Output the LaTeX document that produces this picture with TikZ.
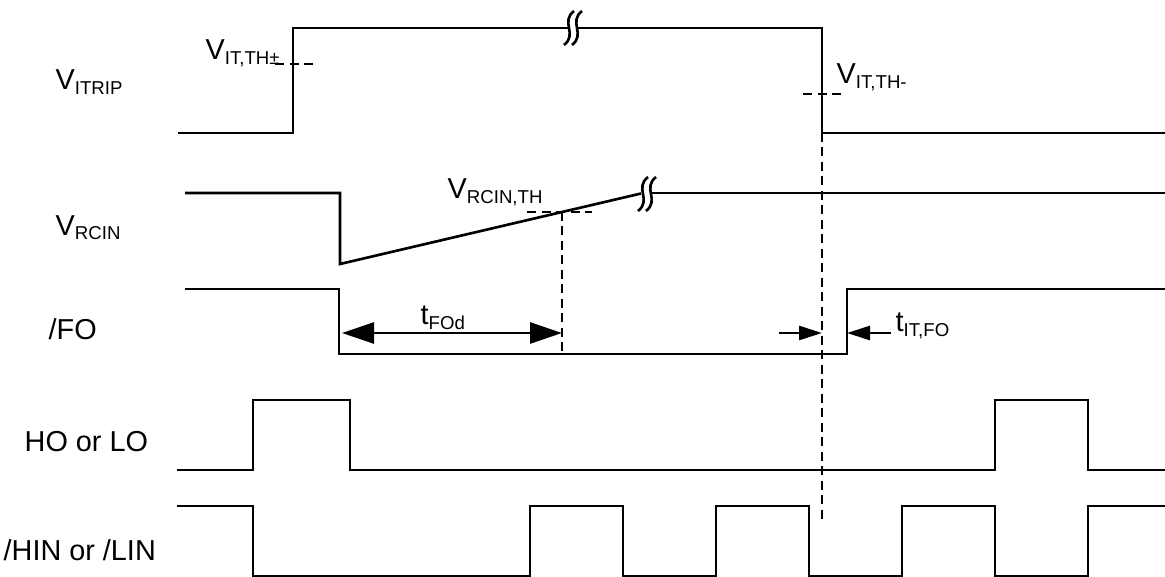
\documentclass[tikz,border=0pt]{standalone}
\usepackage{fontspec}
\setmainfont{Liberation Sans}
\usetikzlibrary{arrows.meta}
\newcommand{\lsub}[1]{\raisebox{-1.3pt}{\fontsize{5.3}{6}\selectfont #1}}

\begin{document}
\begin{tikzpicture}[x=0.1mm,y=-0.1mm,line join=miter,font=\fontsize{8.2}{10}\selectfont,
  sig/.style={line width=0.75pt},
  thr/.style={line width=0.6pt,dash pattern=on 0.9mm off 0.55mm},
  bigarr/.style={line width=0.75pt,{Triangle[length=3.2mm,width=2.1mm]}-{Triangle[length=3.2mm,width=2.1mm]}},
  smallarr/.style={line width=0.75pt,-{Triangle[length=2.3mm,width=1.4mm]}},
  lbl/.style={anchor=base west,inner sep=0pt}]
\useasboundingbox (0,0) rectangle (1165,577);
% --- signal names
\node[lbl] (itrip) at (55,90) {V\lsub{ITRIP}};
\node[lbl] (rcin) at (55,235) {V\lsub{RCIN}};
\node[lbl] (fo) at (48,340) {/FO};
\node[lbl] (hilo) at (24,451) {HO or LO};
\node[lbl] (hin) at (3,560) {/HIN or /LIN};
% --- V_ITRIP
\draw[sig] (178,133) -- (293,133) -- (293,28) -- (569,28);
\draw[sig] (577,28) -- (822,28) -- (822,133) -- (1165,133);
\draw[thr] (275,64) -- (313,64);
\draw[thr] (803,94) -- (842,94);
\node[lbl] (thp) at (205,60) {V\lsub{IT,TH±}};
\node[lbl] (thm) at (836,84) {V\lsub{IT,TH-}};
% --- V_RCIN
\draw[sig] (185,193) -- (340,193) -- (340,264) -- (641,193.5);
\draw[sig] (652,193) -- (1165,193);
\draw[thr] (527,212) -- (592,212);
\draw[thr] (562,212) -- (562,354);
\node[lbl] (rcth) at (447,199) {V\lsub{RCIN,TH}};
% break marks
\foreach \bx/\by in {573/28,647/194} {
  \foreach \dx in {-4,4} \draw[sig] (\bx+\dx-5,\by+17) .. controls (\bx+\dx+9,\by+6) and (\bx+\dx-9,\by-6) .. (\bx+\dx+5,\by-17);
}
% --- /FO
\draw[sig] (185,289) -- (339,289) -- (339,354) -- (847,354) -- (847,289) -- (1165,289);
\coordinate (fodL) at (342,333); \coordinate (fodR) at (562,333);
\draw[bigarr] (fodL) -- (fodR);
\node[lbl] (tfod) at (420,325) {t\lsub{FOd}};
\coordinate (itL) at (779,333); \coordinate (itM) at (822,333);
\coordinate (itE) at (847,333); \coordinate (itR) at (891,333);
\draw[smallarr] (itL) -- (itM);
\draw[smallarr] (itR) -- (itE);
\node[lbl] (titfo) at (895,332) {t\lsub{IT,FO}};
% --- fault line
\draw[thr] (822,133) -- (822,523);
% --- HO or LO
\draw[sig] (177,470) -- (253,470) -- (253,400) -- (350,400) -- (350,470) -- (995,470) -- (995,400) -- (1088,400) -- (1088,470) -- (1165,470);
% --- /HIN or /LIN
\draw[sig] (177,506) -- (253,506) -- (253,576) -- (530,576) -- (530,506) -- (623,506) -- (623,576) -- (716,576) -- (716,506) -- (809,506) -- (809,576) -- (902,576) -- (902,506) -- (995,506) -- (995,576) -- (1088,576) -- (1088,506) -- (1165,506);
\end{tikzpicture}
\end{document}
